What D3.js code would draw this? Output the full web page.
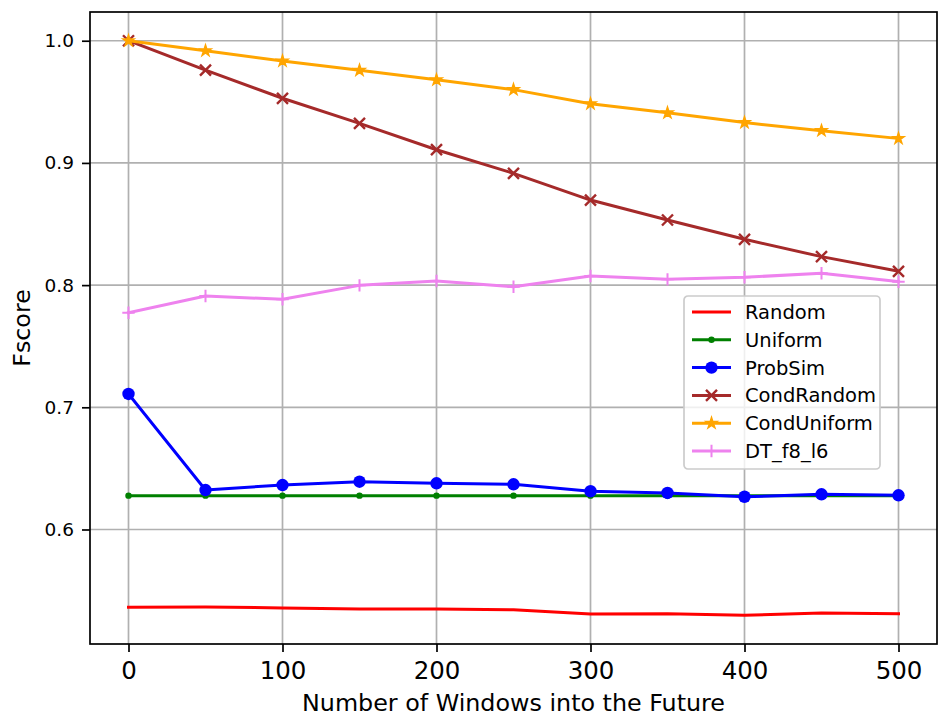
<!DOCTYPE html>
<html>
<head>
<meta charset="utf-8">
<script src="https://cdn.jsdelivr.net/npm/d3@7"></script>
<style>
  body { margin: 0; background: #fff; }
  text { font-family: "DejaVu Sans", sans-serif; fill: #000; }
  .grid line { stroke: #b0b0b0; stroke-width: 1.7px; }
</style>
</head>
<body>
<div id="chart"></div>
<script>
// data
var windows = [0, 50, 100, 150, 200, 250, 300, 350, 400, 450, 500];
var randomF = [0.5363, 0.5366, 0.5358, 0.5350, 0.5350, 0.5343, 0.5308, 0.5311, 0.5298, 0.5317, 0.5311];
var uniformF = [0.6277, 0.6277, 0.6277, 0.6277, 0.6277, 0.6277, 0.6277, 0.6277, 0.6277, 0.6277, 0.6277];
var probSimF = [0.7109, 0.6323, 0.6364, 0.6391, 0.6378, 0.6370, 0.6313, 0.6299, 0.6268, 0.6288, 0.6280];
var condRandomF = [1.0, 0.9760, 0.9529, 0.9324, 0.9108, 0.8915, 0.8696, 0.8533, 0.8375, 0.8233, 0.8113];
var condUniformF = [1.0, 0.9918, 0.9834, 0.9758, 0.9680, 0.9600, 0.9484, 0.9410, 0.9330, 0.9264, 0.9200];
var dtF = [0.7774, 0.7911, 0.7884, 0.7998, 0.8034, 0.7987, 0.8075, 0.8047, 0.8064, 0.8097, 0.8028];
var xTicks = [0, 100, 200, 300, 400, 500];
var yTicks = [0.6, 0.7, 0.8, 0.9, 1.0];

var series = [
  { name: "Random", values: randomF, color: "#ff0000", marker: null },
  { name: "Uniform", values: uniformF, color: "#008000", marker: "point" },
  { name: "ProbSim", values: probSimF, color: "#0000ff", marker: "circle" },
  { name: "CondRandom", values: condRandomF, color: "#a52a2a", marker: "x" },
  { name: "CondUniform", values: condUniformF, color: "#ffa500", marker: "star" },
  { name: "DT_f8_l6", values: dtF, color: "#ee82ee", marker: "plus" }
];

var W = 938, H = 717;
var margin = { top: 12, right: 1, bottom: 73, left: 90 };
var width = W - margin.left - margin.right,
  height = H - margin.top - margin.bottom;

var svg = d3.select("#chart").append("svg")
  .attr("width", W)
  .attr("height", H);

var g = svg.append("g")
  .attr("transform", "translate(" + margin.left + "," + margin.top + ")");

// matplotlib style 5% margins
var x = d3.scaleLinear().domain([-25, 525]).range([0, width]);
var allVals = d3.merge(series.map(function(s) { return s.values; }));
var ymin = d3.min(allVals), ymax = d3.max(allVals), pad = (ymax - ymin) * 0.05;
var y = d3.scaleLinear().domain([ymin - pad, ymax + pad]).range([height, 0]);

// grid
g.append("g").attr("class", "grid")
  .selectAll("line").data(xTicks).enter().append("line")
  .attr("x1", function(d) { return x(d); }).attr("x2", function(d) { return x(d); })
  .attr("y1", 0).attr("y2", height);
g.append("g").attr("class", "grid")
  .selectAll("line").data(yTicks).enter().append("line")
  .attr("y1", function(d) { return y(d); }).attr("y2", function(d) { return y(d); })
  .attr("x1", 0).attr("x2", width);

// axes
var xAxis = g.append("g")
  .attr("transform", "translate(0," + height + ")")
  .call(d3.axisBottom(x).tickValues(xTicks).tickSize(8).tickPadding(10).tickFormat(d3.format("d")));
var yAxis = g.append("g")
  .call(d3.axisLeft(y).tickValues(yTicks).tickSize(8).tickPadding(8).tickFormat(d3.format(".1f")));
[xAxis, yAxis].forEach(function(a) {
  a.select(".domain").remove();
  a.selectAll(".tick line").attr("stroke", "#000").attr("stroke-width", 1.7);
  a.selectAll(".tick text").attr("font-family", "DejaVu Sans");
});
xAxis.selectAll(".tick text").style("font-size", "24.5px");
yAxis.selectAll(".tick text").style("font-size", "18.5px");

// spines
g.append("rect")
  .attr("width", width).attr("height", height)
  .attr("fill", "none").attr("stroke", "#000").attr("stroke-width", 1.7);

// marker drawing
function drawMarker(sel, type, color, cx, cy) {
  if (type === "point") {
    sel.append("circle").attr("cx", cx).attr("cy", cy).attr("r", 3.2).attr("fill", color);
  } else if (type === "circle") {
    sel.append("circle").attr("cx", cx).attr("cy", cy).attr("r", 6.2).attr("fill", color);
  } else if (type === "x") {
    var r = 5.5;
    sel.append("path")
      .attr("d", "M" + (cx - r) + "," + (cy - r) + "L" + (cx + r) + "," + (cy + r) +
        "M" + (cx - r) + "," + (cy + r) + "L" + (cx + r) + "," + (cy - r))
      .attr("stroke", color).attr("stroke-width", 2.4).attr("fill", "none");
  } else if (type === "plus") {
    var p = 6.2;
    sel.append("path")
      .attr("d", "M" + (cx - p) + "," + cy + "L" + (cx + p) + "," + cy +
        "M" + cx + "," + (cy - p) + "L" + cx + "," + (cy + p))
      .attr("stroke", color).attr("stroke-width", 2).attr("fill", "none");
  } else if (type === "star") {
    sel.append("path")
      .attr("d", d3.symbol().type(d3.symbolStar).size(40)())
      .attr("transform", "translate(" + cx + "," + cy + ")")
      .attr("fill", color).attr("stroke", color).attr("stroke-width", 1.4);
  }
}

var line = d3.line()
  .x(function(d, i) { return x(windows[i]); })
  .y(function(d) { return y(d); });

series.forEach(function(s) {
  var sg = g.append("g");
  sg.append("path")
    .datum(s.values)
    .attr("d", line)
    .attr("fill", "none")
    .attr("stroke", s.color)
    .attr("stroke-width", 3)
    .attr("stroke-linecap", "square")
    .attr("stroke-linejoin", "round");
  if (s.marker) {
    s.values.forEach(function(v, i) {
      drawMarker(sg, s.marker, s.color, x(windows[i]), y(v));
    });
  }
});

// axis labels
svg.append("text")
  .attr("x", margin.left + width / 2)
  .attr("y", 711)
  .attr("text-anchor", "middle")
  .style("font-size", "23.8px")
  .text("Number of Windows into the Future");
svg.append("text")
  .attr("transform", "translate(30," + (margin.top + height / 2) + ") rotate(-90)")
  .attr("text-anchor", "middle")
  .style("font-size", "23.8px")
  .text("Fscore");

// legend
var lg = svg.append("g").attr("transform", "translate(684,296)");
lg.append("rect")
  .attr("width", 196).attr("height", 173)
  .attr("rx", 4).attr("ry", 4)
  .attr("fill", "#fff").attr("fill-opacity", 0.8)
  .attr("stroke", "#cccccc").attr("stroke-width", 1.7);
series.forEach(function(s, i) {
  var ly = 16 + i * 27.8;
  lg.append("line")
    .attr("x1", 8).attr("x2", 47).attr("y1", ly).attr("y2", ly)
    .attr("stroke", s.color).attr("stroke-width", 3);
  if (s.marker) drawMarker(lg, s.marker, s.color, 27.5, ly);
  lg.append("text")
    .attr("x", 61).attr("y", ly + 7)
    .style("font-size", "19.5px")
    .text(s.name);
});
</script>
</body>
</html>
